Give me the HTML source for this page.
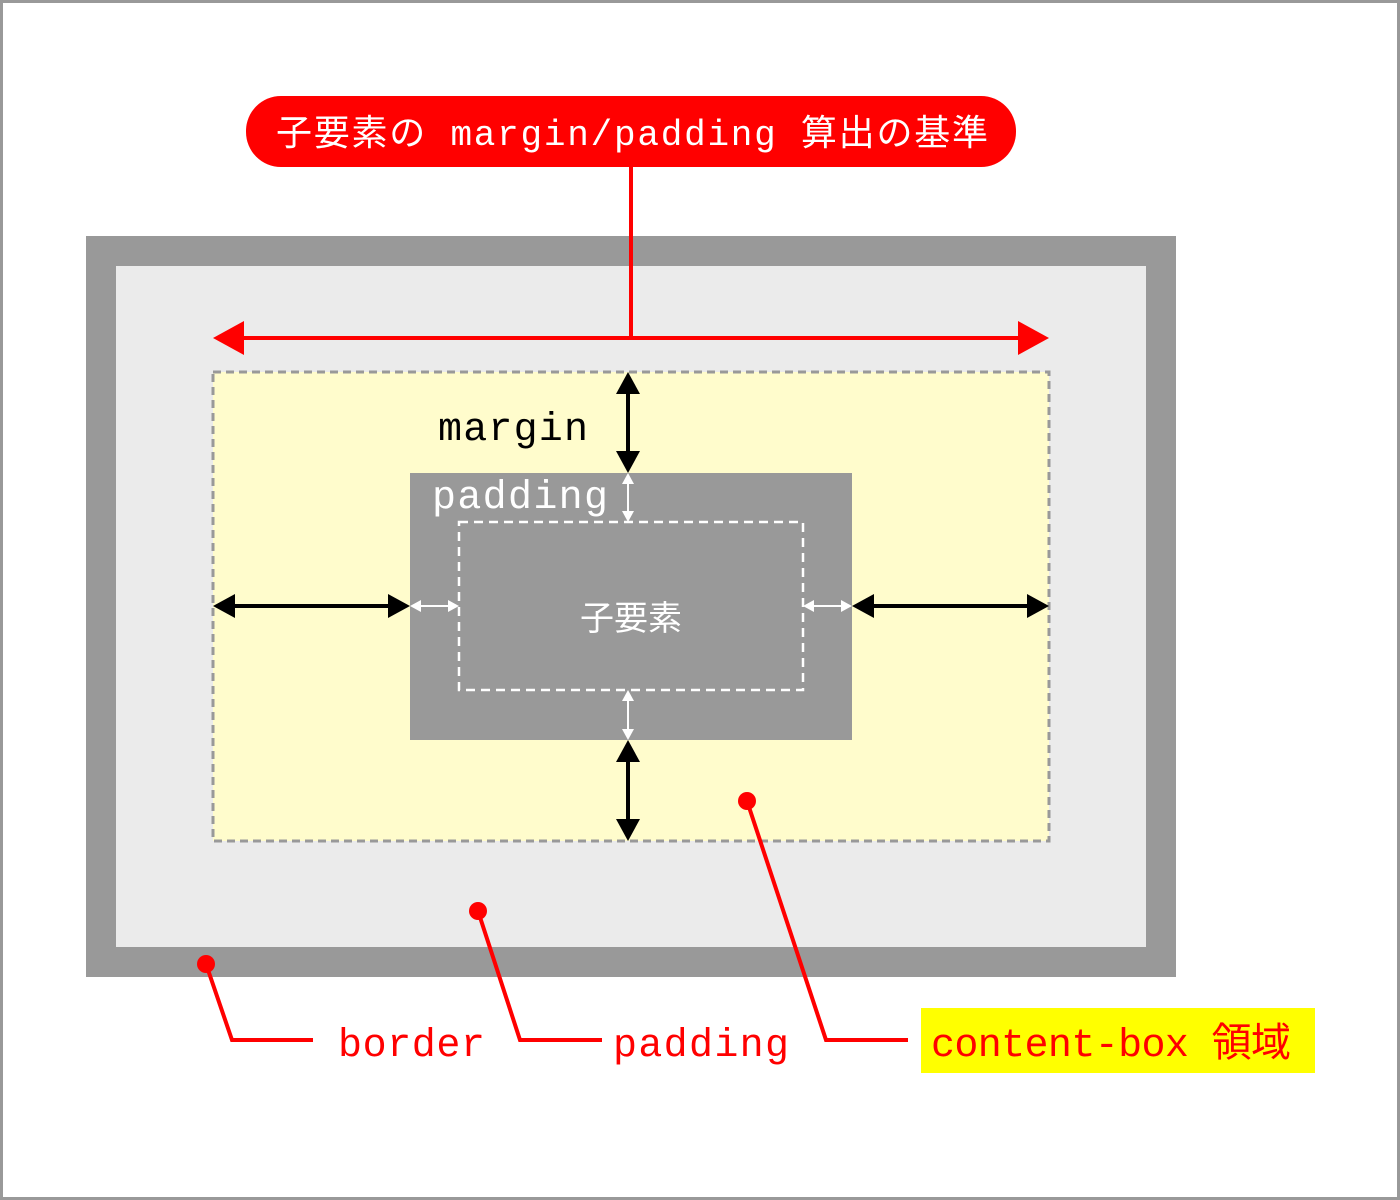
<!DOCTYPE html>
<html><head><meta charset="utf-8"><style>
html,body{margin:0;padding:0;background:#fff}
svg{display:block}
text{font-family:"Liberation Mono","Noto Sans CJK JP",monospace}
</style></head><body>
<svg width="1400" height="1200" viewBox="0 0 1400 1200" xmlns="http://www.w3.org/2000/svg">
<rect x="1.5" y="1.5" width="1397" height="1197" fill="#fff" stroke="#999" stroke-width="3"/>
<rect x="86" y="236" width="1090" height="741" fill="#999"/>
<rect x="116" y="266" width="1030" height="681" fill="#ebebeb"/>
<rect x="213" y="372" width="836" height="469" fill="#fffccc" stroke="#999" stroke-width="3" stroke-dasharray="8,5"/>
<rect x="410" y="473" width="442" height="267" fill="#999"/>
<rect x="459" y="522" width="344" height="168" fill="none" stroke="#fff" stroke-width="2.5" stroke-dasharray="9,6"/>
<text x="631" y="630" fill="#fff" font-size="34" text-anchor="middle">子要素</text>
<text x="438" y="440" fill="#000" font-size="40" textLength="150">margin</text>
<text x="432" y="508" fill="#fff" font-size="40" textLength="176">padding</text>
<!-- pill -->
<rect x="246" y="96" width="770" height="71" rx="35" fill="#f00"/>
<text x="276" y="145" fill="#fff" font-size="36" textLength="712">子要素の margin/padding 算出の基準</text>
<line x1="631" y1="167" x2="631" y2="338" stroke="#f00" stroke-width="4"/>
<line x1="240" y1="338" x2="1022" y2="338" stroke="#f00" stroke-width="4"/>
<polygon points="213,338 244,321 244,355" fill="#f00"/>
<polygon points="1049,338 1018,321 1018,355" fill="#f00"/>
<!-- black arrows -->
<g stroke="#000" stroke-width="4">
<line x1="628" y1="392" x2="628" y2="453"/>
<line x1="628" y1="760" x2="628" y2="821"/>
<line x1="233" y1="606" x2="390" y2="606"/>
<line x1="872" y1="606" x2="1029" y2="606"/>
</g>
<g fill="#000">
<polygon points="628,372 616,394 640,394"/><polygon points="628,473 616,451 640,451"/>
<polygon points="628,740 616,762 640,762"/><polygon points="628,841 616,819 640,819"/>
<polygon points="213,606 235,594 235,618"/><polygon points="410,606 388,594 388,618"/>
<polygon points="852,606 874,594 874,618"/><polygon points="1049,606 1027,594 1027,618"/>
</g>
<!-- white arrows -->
<g stroke="#fff" stroke-width="2">
<line x1="628" y1="480" x2="628" y2="515"/>
<line x1="628" y1="697" x2="628" y2="733"/>
<line x1="417" y1="606" x2="452" y2="606"/>
<line x1="810" y1="606" x2="845" y2="606"/>
</g>
<g fill="#fff">
<polygon points="628,473 622,484 634,484"/><polygon points="628,522 622,511 634,511"/>
<polygon points="628,690 622,701 634,701"/><polygon points="628,740 622,729 634,729"/>
<polygon points="410,606 421,600 421,612"/><polygon points="459,606 448,600 448,612"/>
<polygon points="803,606 814,600 814,612"/><polygon points="852,606 841,600 841,612"/>
</g>
<!-- leaders -->
<g stroke="#f00" stroke-width="4" fill="none">
<polyline points="206,964 232,1040 313,1040"/>
<polyline points="478,911 520,1040 602,1040"/>
<polyline points="747,801 826,1040 908,1040"/>
</g>
<g fill="#f00"><circle cx="206" cy="964" r="9"/><circle cx="478" cy="911" r="9"/><circle cx="747" cy="801" r="9"/></g>
<rect x="921" y="1008" width="394" height="65" fill="#ff0"/>
<text x="338" y="1056" fill="#f00" font-size="40" textLength="147">border</text>
<text x="613" y="1056" fill="#f00" font-size="40" textLength="176">padding</text>
<text x="931" y="1056" fill="#f00" font-size="40" textLength="360">content-box 領域</text>
</svg>
</body></html>
